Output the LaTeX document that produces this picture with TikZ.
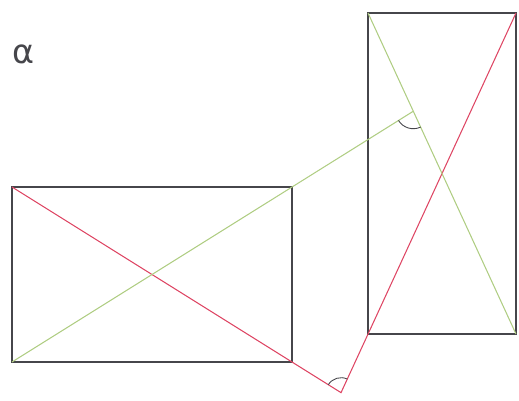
\documentclass[tikz,border=0pt]{standalone}
\usepackage{fontspec}
\newfontfamily\greekfont{DejaVu Sans}
\usepackage{tikz}
\usetikzlibrary{angles,calc}
\definecolor{edgegrey}{RGB}{70,70,75}
\definecolor{diagred}{RGB}{222,70,100}
\definecolor{diaggreen}{RGB}{175,205,130}

\begin{document}
\begin{tikzpicture}[x=0.02cm, y=-0.02cm,
  frame/.style={draw=edgegrey, line width=0.7pt},
  redline/.style={draw=diagred, line width=0.6pt},
  greenline/.style={draw=diaggreen, line width=0.6pt},
  anglemark/.style={draw=edgegrey, line width=0.5pt, angle radius=0.3cm},
  every node/.style={font=\greekfont\fontsize{19}{19}\selectfont, text=edgegrey}
]
\useasboundingbox (0,0) rectangle (519,401);

% ---- left rectangle (landscape) ----
\coordinate (ltl) at (12,187);
\coordinate (ltr) at (292,187);
\coordinate (lbl) at (12,362);
\coordinate (lbr) at (292,362);
\draw[frame] (ltl) rectangle (lbr);

% ---- right rectangle (portrait) ----
\coordinate (rtl) at (368,13);
\coordinate (rtr) at (516,13);
\coordinate (rbl) at (368,334);
\coordinate (rbr) at (516,334);
\draw[frame] (rtl) rectangle (rbr);

% ---- meeting points of the extended diagonals ----
\coordinate (pbot) at (intersection of ltl--lbr and rtr--rbl);
\coordinate (ptop) at (intersection of lbl--ltr and rtl--rbr);

% ---- diagonals ----
\draw[redline] (ltl) -- (pbot) -- (rtr);
\draw[greenline] (lbl) -- (ptop);
\draw[greenline] (rtl) -- (rbr);

% ---- angle marks ----
\pic[anglemark] {angle = rtr--pbot--ltl};
\pic[anglemark, angle radius=0.35cm] {angle = lbl--ptop--rbr};

\node (alphalabel) at (24,54) {α};
\end{tikzpicture}
\end{document}
